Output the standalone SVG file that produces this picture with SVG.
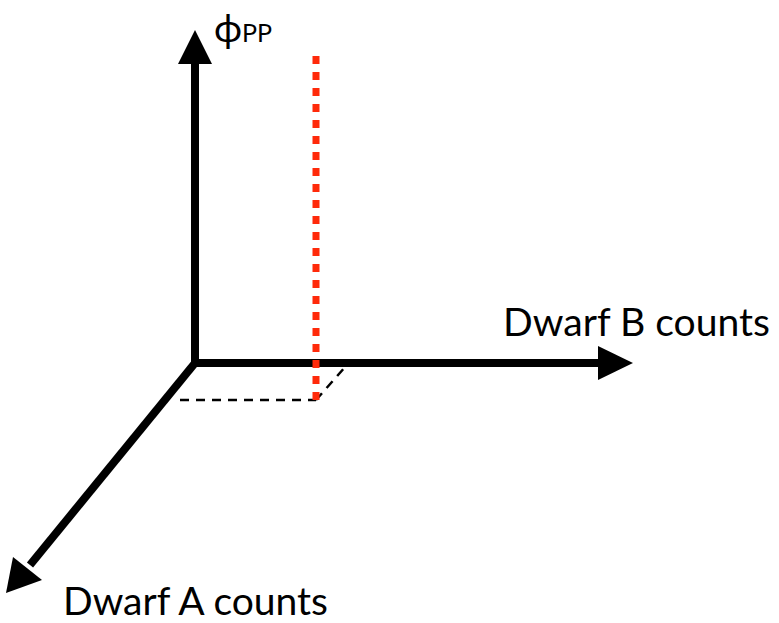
<svg xmlns="http://www.w3.org/2000/svg" width="779" height="623" viewBox="0 0 779 623">
<style>
.axis{stroke:#000;stroke-width:8;fill:none}
.head{fill:#000}
.lbl{font-family:"Lato","Open Sans",sans-serif;fill:#000}
.dash{stroke:#000;stroke-width:2.5;stroke-dasharray:9 7;fill:none}
.red{stroke:#ff2a0a;stroke-width:7;stroke-dasharray:8 8;fill:none}
</style>
<rect width="779" height="623" fill="#fff"/>
<g id="connectors">
<line class="dash" x1="180" y1="400" x2="316" y2="400"/>
<line class="dash" x1="316" y1="400" x2="346" y2="366"/>
<line class="axis" x1="195" y1="367" x2="195" y2="60"/>
<line class="axis" x1="191" y1="363" x2="600" y2="363"/>
<line class="axis" x1="195" y1="363" x2="30" y2="565"/>
<polygon class="head" points="195,30 212,64 178,64"/>
<polygon class="head" points="633,363 598,346 598,380"/>
<polygon class="head" points="6,593 13,557 42,580"/>
<line class="red" x1="316" y1="56" x2="316" y2="400"/>
</g>
<g id="label-phi">
<text class="lbl" x="214" y="42" font-size="38">ϕ<tspan font-size="25">PP</tspan></text>
</g>
<g id="label-b">
<text class="lbl" x="503" y="336" font-size="39" textLength="267" lengthAdjust="spacingAndGlyphs">Dwarf B counts</text>
</g>
<g id="label-a">
<text class="lbl" x="63" y="615" font-size="39" textLength="265" lengthAdjust="spacingAndGlyphs">Dwarf A counts</text>
</g>
</svg>
